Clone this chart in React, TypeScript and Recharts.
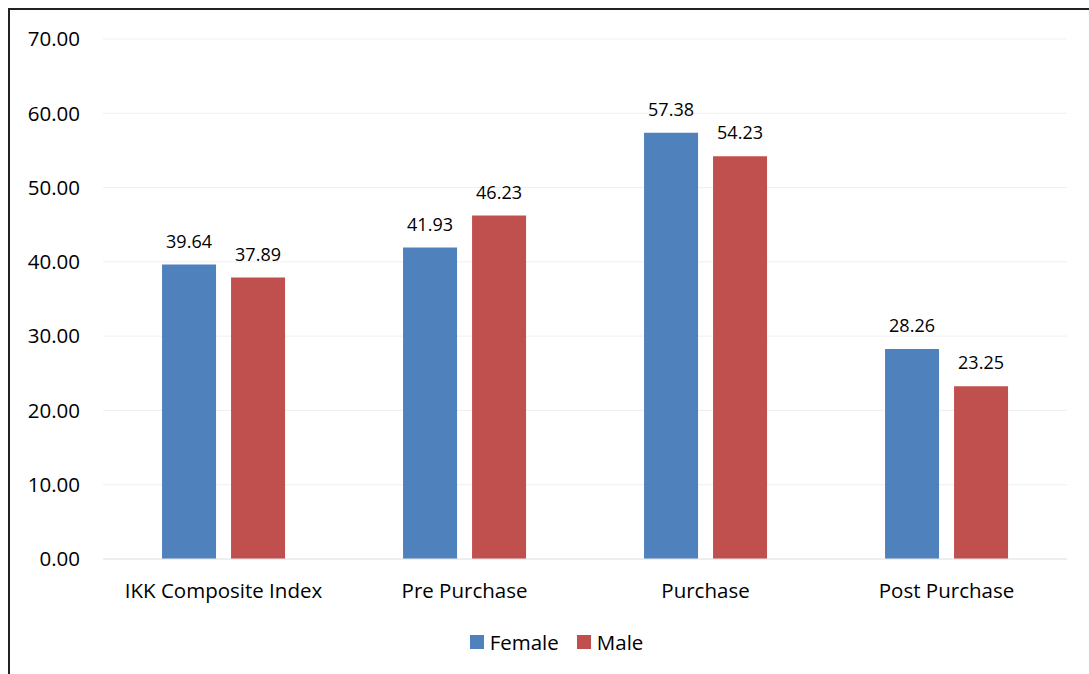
import { BarChart, Bar, XAxis, YAxis, CartesianGrid, Legend, LabelList } from 'recharts';

const categories = ['IKK Composite Index', 'Pre Purchase', 'Purchase', 'Post Purchase'];
const female = [39.64, 41.93, 57.38, 28.26];
const male = [37.89, 46.23, 54.23, 23.25];
const yTicks = [0, 10, 20, 30, 40, 50, 60, 70];

const data = categories.map((name, i) => ({ name, female: female[i], male: male[i] }));

const FONT = 'Open Sans, sans-serif';
const BLUE = '#4F81BD';
const RED = '#C0504D';

const LegendContent = () => (
  <div style={{ display: 'flex', justifyContent: 'center', fontFamily: FONT, fontSize: 20.5, color: '#000', lineHeight: '26px' }}>
    {[{ label: 'Female', color: BLUE }, { label: 'Male', color: RED }].map((item) => (
      <div key={item.label} style={{ display: 'flex', alignItems: 'center', margin: '0 9px' }}>
        <span style={{ width: 14, height: 14, background: item.color, display: 'inline-block', marginRight: 6 }} />
        <span>{item.label}</span>
      </div>
    ))}
  </div>
);

const App = () => {
  return (
    <div style={{ position: 'fixed', top: 8, left: 8, width: 1081, height: 666, overflow: 'hidden' }}>
      <div style={{ width: 1100, height: 700, border: '2px solid #222', background: '#fff', boxSizing: 'border-box' }}>
        <BarChart
          width={1096}
          height={680}
          data={data}
          margin={{ top: 29, right: 39, left: 0, bottom: 0 }}
          barCategoryGap="24.5%"
          barGap={15}
        >
          <CartesianGrid vertical={false} stroke="#efefef" />
          <XAxis
            dataKey="name"
            axisLine={{ stroke: '#e6e6e6' }}
            tickLine={false}
            tickSize={0}
            tickMargin={24}
            height={105}
            tick={{ fontSize: 20.5, fill: '#000', fontFamily: FONT }}
          />
          <YAxis
            domain={[0, 70]}
            ticks={yTicks}
            width={93}
            axisLine={false}
            tickLine={false}
            tickSize={0}
            tickMargin={23}
            tickFormatter={(v) => Number(v).toFixed(2)}
            tick={{ fontSize: 20.5, fill: '#000', fontFamily: FONT }}
          />
          <Legend
            verticalAlign="bottom"
            content={<LegendContent />}
            wrapperStyle={{ left: 0, width: 1093, top: 619 }}
          />
          <Bar dataKey="female" name="Female" fill={BLUE} isAnimationActive={false}>
            <LabelList dataKey="female" position="top" offset={17} formatter={(v: any) => Number(v).toFixed(2)} style={{ fontSize: 18, fill: '#000', fontFamily: FONT }} />
          </Bar>
          <Bar dataKey="male" name="Male" fill={RED} isAnimationActive={false}>
            <LabelList dataKey="male" position="top" offset={17} formatter={(v: any) => Number(v).toFixed(2)} style={{ fontSize: 18, fill: '#000', fontFamily: FONT }} />
          </Bar>
        </BarChart>
      </div>
    </div>
  );
};

export default App;
